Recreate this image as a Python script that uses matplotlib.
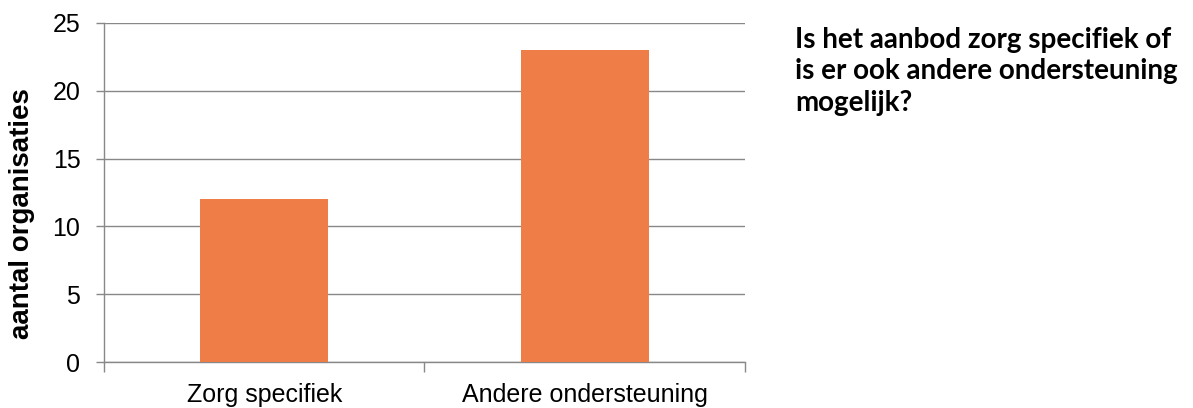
import matplotlib.pyplot as plt

categories = ['Zorg specifiek', 'Andere ondersteuning']
counts = [12, 23]
yticks = [0, 5, 10, 15, 20, 25]
title = 'Is het aanbod zorg specifiek of\nis er ook andere ondersteuning\nmogelijk?'

fig = plt.figure(figsize=(11.93, 4.08), dpi=100)
ax = fig.add_axes([104 / 1193, 1 - 362 / 408, (745 - 104) / 1193, (362 - 23) / 408])

x = range(len(categories))
ax.bar(x, counts, width=0.4, color='#EF7D48', zorder=3)
ax.set_xlim(-0.5, 1.5)
ax.set_ylim(0, 25)
ax.set_yticks(yticks)
ax.set_xticks([-0.5, 0.5, 1.5], minor=False)
ax.set_xticklabels([])
ax.set_xticks(list(x), minor=True)
ax.set_xticklabels(categories, minor=True, fontsize=18, family='Liberation Sans')
ax.tick_params(axis='x', which='minor', length=0, pad=15)
ax.tick_params(axis='x', which='major', length=7, color='#888888', width=1)
ax.tick_params(axis='y', length=6, color='#888888', width=1, labelsize=18, pad=11)
for lab in ax.get_yticklabels():
    lab.set_family('Liberation Sans')

ax.grid(axis='y', color='#888888', linewidth=1, zorder=0)
for s in ['top', 'right']:
    ax.spines[s].set_visible(False)
for s in ['left', 'bottom']:
    ax.spines[s].set_color('#888888')
    ax.spines[s].set_linewidth(1)

fig.text(22 / 1193, 1 - 214 / 408, 'aantal organisaties', fontsize=20, fontweight='bold',
         family='Liberation Sans', rotation=90, ha='center', va='center')

fig.text(795 / 1193, 1 - 27 / 408, title, fontsize=20, fontweight='bold', family='Lato',
         va='top', ha='left', linespacing=1.25)

fig.savefig('out.png', dpi=100)
